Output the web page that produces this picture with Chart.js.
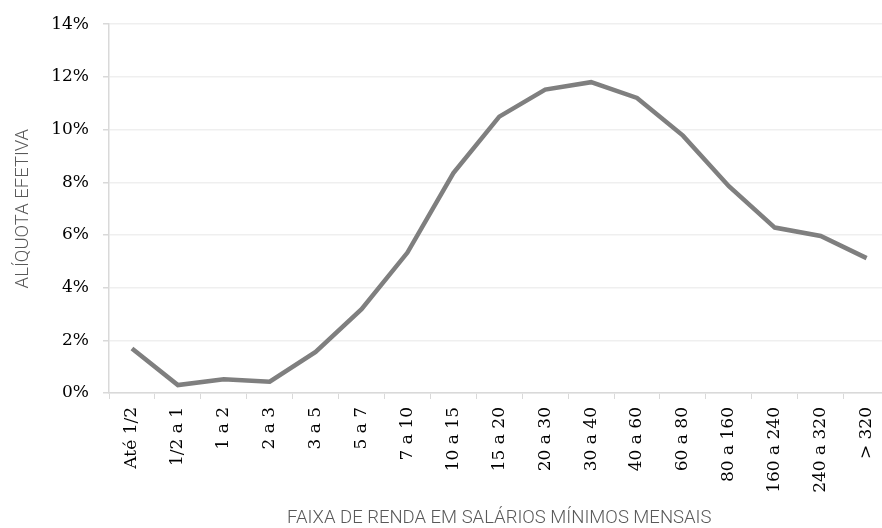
<!DOCTYPE html>
<html>
<head>
<meta charset="utf-8">
<script src="https://cdn.jsdelivr.net/npm/chart.js@4/dist/chart.umd.min.js"></script>
<style>
  html, body { margin: 0; padding: 0; background: #fff; overflow: hidden; }
  #wrap { width: 895px; height: 528px; }
</style>
</head>
<body>
<div id="wrap"><canvas id="chart"></canvas></div>
<script>
// Faixas de renda (salários mínimos mensais)
const faixas = ['Até 1/2', '1/2 a 1', '1 a 2', '2 a 3', '3 a 5', '5 a 7', '7 a 10', '10 a 15',
  '15 a 20', '20 a 30', '30 a 40', '40 a 60', '60 a 80', '80 a 160', '160 a 240', '240 a 320', '> 320'];
// Alíquota efetiva (%)
const aliquota = [1.69, 0.30, 0.52, 0.43, 1.56, 3.18, 5.33, 8.35,
  10.49, 11.52, 11.80, 11.20, 9.77, 7.85, 6.28, 5.96, 5.12];
const yTicks = [0, 2, 4, 6, 8, 10, 12, 14];

const tickFont = { family: '"DejaVu Serif", serif', size: 17 };
const titleFont = { family: 'Roboto, sans-serif', size: 18.5, weight: 300, lineHeight: 1 };

new Chart(document.getElementById('chart'), {
  type: 'line',
  data: {
    labels: faixas,
    datasets: [{
      data: aliquota,
      borderColor: '#7f7f7f',
      borderWidth: 4.5,
      pointRadius: 0,
      tension: 0,
      fill: false
    }]
  },
  options: {
    responsive: true,
    maintainAspectRatio: false,
    animation: false,
    layout: { padding: { top: 20, right: 0, left: 0, bottom: 0 } },
    plugins: { legend: { display: false }, tooltip: { enabled: false } },
    scales: {
      x: {
        offset: true,
        grid: { offset: true, drawOnChartArea: false, drawTicks: true, tickLength: 6, color: '#d9d9d9' },
        border: { color: '#d9d9d9', width: 1.5 },
        ticks: { color: '#000', font: tickFont, minRotation: 90, maxRotation: 90, padding: 8, autoSkip: false },
        title: { display: true, text: 'FAIXA DE RENDA EM SALÁRIOS MÍNIMOS MENSAIS', color: '#595959', font: titleFont, padding: { top: 0, bottom: 0 } },
        afterFit: s => { s.height = 135; }
      },
      y: {
        min: 0, max: 14,
        afterBuildTicks: s => { s.ticks = yTicks.map(v => ({ value: v })); },
        grid: { color: '#efefef', lineWidth: 1.5, tickLength: 6, tickColor: '#d9d9d9' },
        border: { color: '#d9d9d9', width: 1.5 },
        ticks: { color: '#000', font: tickFont, padding: 14, callback: v => v + '%' },
        title: { display: true, text: 'ALÍQUOTA EFETIVA', color: '#595959', font: titleFont, padding: { top: 14, bottom: 0 } },
        afterFit: s => { s.width = 109; }
      }
    }
  }
});
</script>
</body>
</html>
